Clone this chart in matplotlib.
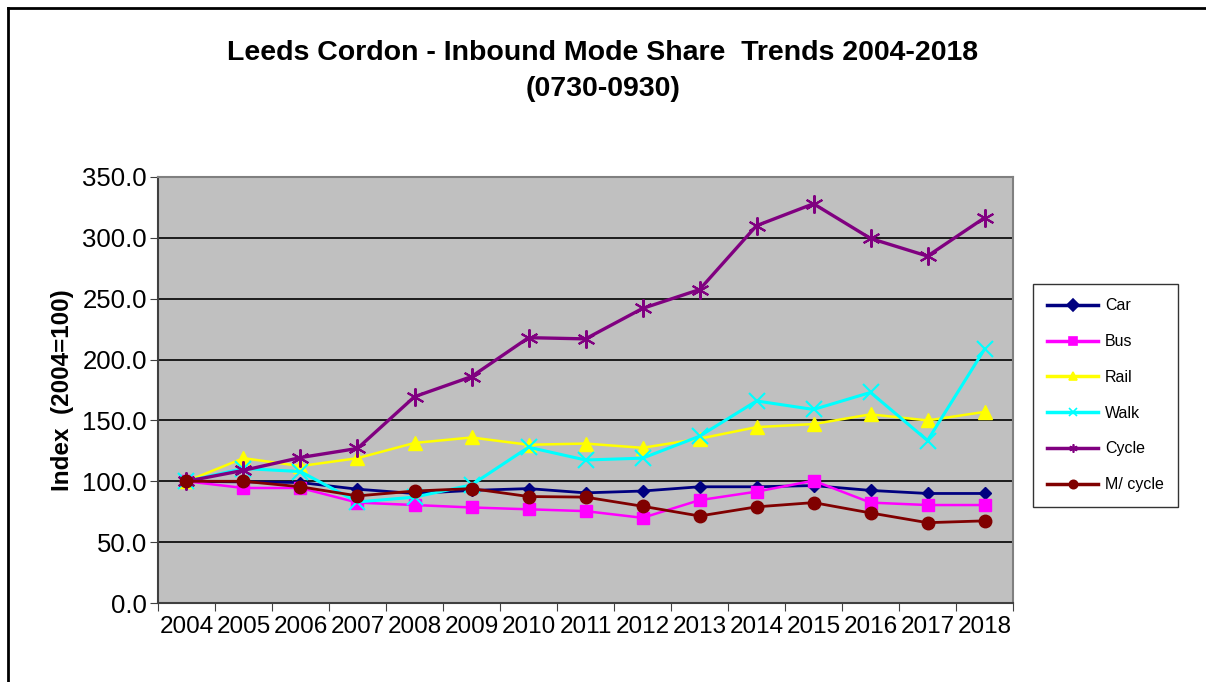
import matplotlib.pyplot as plt
from matplotlib.lines import Line2D

plt.rcParams['font.family'] = ['Liberation Sans', 'DejaVu Sans']

years = ['2004', '2005', '2006', '2007', '2008', '2009', '2010', '2011',
         '2012', '2013', '2014', '2015', '2016', '2017', '2018']

car = [100, 99.5, 99, 93.5, 90, 92.5, 94, 90.5, 92, 95.5, 95.5, 96.5, 92.5, 90, 90]
bus = [100, 94.5, 94.5, 82.5, 80.5, 78.5, 77, 75.5, 70, 84.5, 91.5, 100.5, 82.5, 80.5, 80.5]
rail = [100, 119, 112.5, 119, 131.5, 136, 130, 131, 127.5, 135, 144.5, 147, 155, 150, 157]
walk = [100, 110.5, 108, 83, 87, 97, 128, 117.5, 119, 137, 166, 159, 173, 133.5, 208.5]
cycle = [100, 109, 119.5, 127, 169.5, 186, 218, 217, 242, 257.5, 310, 328, 299.5, 285, 316.5]
mcycle = [100, 100, 95.5, 88, 92, 94, 87.5, 87, 79.5, 71.5, 79, 82.5, 74, 66, 67.5]

series = [
    ('Car', car, '#000080', 'D', 6, 2.0),
    ('Bus', bus, '#FF00FF', 's', 9, 1.8),
    ('Rail', rail, '#FFFF00', '^', 10, 1.8),
    ('Walk', walk, '#00FFFF', 'x', 11, 2.2),
    ('Cycle', cycle, '#800080', (6, 2, 0), 13, 2.4),
    ('M/ cycle', mcycle, '#800000', 'o', 9, 2.0),
]

fig = plt.figure(figsize=(12.06, 6.82), dpi=100)
ax = fig.add_axes([0.131, 0.1158, 0.709, 0.6247])
ax.set_facecolor('#C0C0C0')

x = range(len(years))
for name, vals, col, mk, ms, lw in series:
    mew = 1.5 if mk in ('x',) or isinstance(mk, tuple) else 1
    ax.plot(x, vals, color=col, marker=mk, markersize=ms, linewidth=lw,
            markeredgewidth=mew, label=name)

ax.set_xlim(-0.5, len(years) - 0.5)
ax.set_ylim(0, 350)
ax.set_yticks(range(0, 351, 50))
ax.set_yticklabels(['%.1f' % v for v in range(0, 351, 50)], fontsize=18.5)
ax.yaxis.grid(True, color='black', linewidth=1.2)
ax.set_axisbelow(True)

ax.set_xticks([i + 0.5 for i in range(-1, len(years))], minor=False)
ax.set_xticklabels([])
ax.set_xticks(list(x), minor=True)
ax.set_xticklabels(years, minor=True, fontsize=17.5)
ax.tick_params(axis='x', which='minor', length=0, pad=9)
ax.tick_params(axis='x', which='major', length=6, direction='out', color='#404040')
ax.tick_params(axis='y', length=6, direction='out', color='#404040', pad=2)

for s in ['left', 'bottom']:
    ax.spines[s].set_color('#404040')
    ax.spines[s].set_linewidth(1.5)
for s in ['top', 'right']:
    ax.spines[s].set_color('#808080')
    ax.spines[s].set_linewidth(1.5)

ax.set_ylabel('Index  (2004=100)', fontsize=17.5, fontweight='bold', labelpad=6)

fig.text(0.5, 0.922, 'Leeds Cordon - Inbound Mode Share  Trends 2004-2018',
         ha='center', va='center', fontsize=20.5, fontweight='bold')
fig.text(0.5, 0.869, '(0730-0930)', ha='center', va='center',
         fontsize=20.5, fontweight='bold')

handles = [Line2D([], [], color=col, marker=mk, markersize=6, linewidth=2.5,
                  markeredgewidth=1.2)
           for name, vals, col, mk, ms, lw in series]
leg = fig.legend(handles, [s[0] for s in series], loc='upper left',
                 bbox_to_anchor=(1033 / 1206, 1 - 284 / 682), frameon=True,
                 fancybox=False, edgecolor='black', fontsize=11.5,
                 handlelength=3.2, handletextpad=0.4, labelspacing=1.3,
                 borderpad=0.9, borderaxespad=0)
leg.get_frame().set_linewidth(1.0)

# outer chart border (top and left edges only visible)
fig.add_artist(Line2D([8 / 1206, 1], [1 - 8 / 682, 1 - 8 / 682],
                      transform=fig.transFigure, color='black', linewidth=2))
fig.add_artist(Line2D([8 / 1206, 8 / 1206], [0, 1 - 8 / 682],
                      transform=fig.transFigure, color='black', linewidth=2))

fig.savefig('out.png', dpi=100, facecolor='white')
